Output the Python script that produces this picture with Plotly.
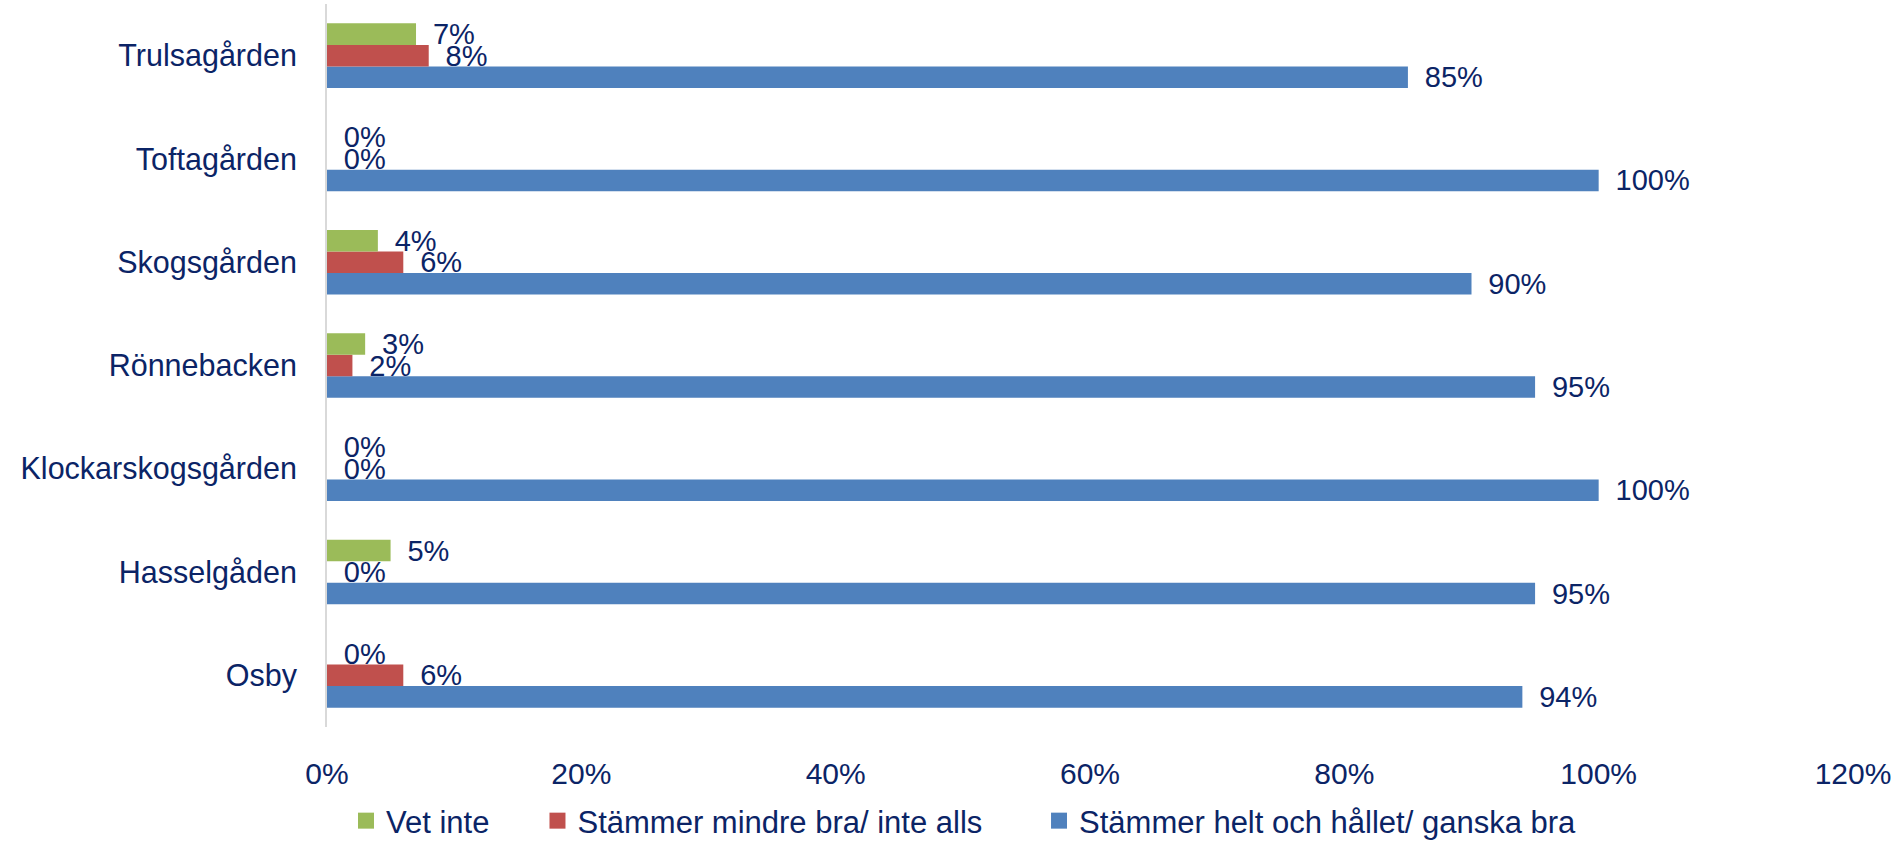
import plotly.graph_objects as go

categories = ["Osby", "Hasselgåden", "Klockarskogsgården", "Rönnebacken",
              "Skogsgården", "Toftagården", "Trulsagården"]
vet_inte = [0.00, 0.05, 0.00, 0.03, 0.04, 0.00, 0.07]
mindre_bra = [0.06, 0.00, 0.00, 0.02, 0.06, 0.00, 0.08]
helt_bra = [0.94, 0.95, 1.00, 0.95, 0.90, 1.00, 0.85]
series_names = ["Vet inte", "Stämmer mindre bra/ inte alls", "Stämmer helt och hållet/ ganska bra"]
x_tick_vals = [0, 0.2, 0.4, 0.6, 0.8, 1.0, 1.2]
x_tick_text = ["0%", "20%", "40%", "60%", "80%", "100%", "120%"]

TEXT = "#0B2466"
FONT = "Liberation Sans, Arial, sans-serif"
NB = "\u00a0"

fig = go.Figure()
specs = [
    (helt_bra, series_names[2], "#4F81BD", ""),
    (mindre_bra, series_names[1], "#C0504D", NB * 6),
    (vet_inte, series_names[0], "#9BBB59", NB * 5),
]
for vals, name, color, pad in specs:
    fig.add_trace(go.Bar(
        y=categories, x=vals, orientation="h", name=name,
        marker=dict(color=color, line=dict(width=0)),
        texttemplate=NB + "\u2009%{x:.0%}", textposition="outside",
        textfont=dict(family=FONT, size=29, color=TEXT),
        cliponaxis=False, constraintext="none",
        hoverinfo="skip", showlegend=False,
    ))
# legend entries with larger square swatches
for vals, name, color, pad in specs:
    fig.add_trace(go.Scatter(
        x=[None], y=[None], mode="markers", name=name + pad,
        marker=dict(symbol="square", size=17, color=color, line=dict(width=0)),
        hoverinfo="skip", showlegend=True,
    ))

fig.update_layout(
    width=1901, height=845,
    barmode="group", bargap=0.375, bargroupgap=0,
    plot_bgcolor="white", paper_bgcolor="white",
    margin=dict(l=327, r=48, t=4, b=118, autoexpand=False),
    font=dict(family=FONT, color=TEXT, size=29),
    xaxis=dict(range=[0, 1.2], tickvals=x_tick_vals, ticktext=x_tick_text,
               showgrid=False, zeroline=False, showline=False, automargin=False,
               ticks="outside", ticklen=20, tickcolor="rgba(0,0,0,0)",
               tickfont=dict(family=FONT, size=30, color=TEXT)),
    yaxis=dict(categoryorder="array", categoryarray=categories,
               showgrid=False, zeroline=False, showline=True, automargin=False,
               linecolor="#D9D9D9", linewidth=2,
               ticks="outside", ticklen=22, tickcolor="rgba(0,0,0,0)",
               tickfont=dict(family=FONT, size=30.5, color=TEXT)),
    legend=dict(orientation="h", traceorder="reversed",
                xref="container", yref="container",
                x=346 / 1901, xanchor="left", y=24 / 845, yanchor="middle",
                font=dict(family=FONT, size=31, color=TEXT)),
    showlegend=True,
)

fig.write_html("out.html", config={"displayModeBar": False},
               post_script="document.body.style.margin='0';document.body.style.overflow='hidden';")
